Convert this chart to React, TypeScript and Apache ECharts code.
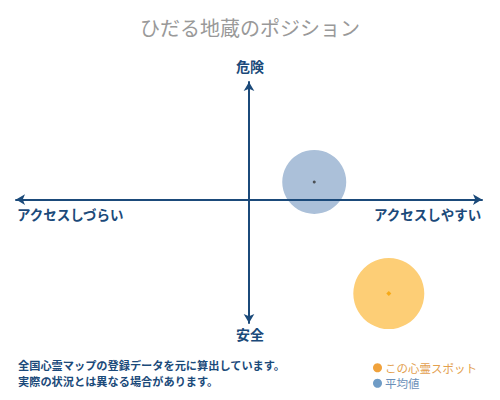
import React, { useRef, useEffect } from 'react';
import * as echarts from 'echarts';

const titleText = 'ひだる地蔵のポジション';
const axisTop = '危険';
const axisBottom = '安全';
const axisLeft = 'アクセスしづらい';
const axisRight = 'アクセスしやすい';
const notes = ['全国心霊マップの登録データを元に算出しています。', '実際の状況とは異なる場合があります。'];

const seriesNames = ['この心霊スポット', '平均値'];
// [access, danger]
const spotPoint = [6.0, -8.0];
const averagePoint = [2.8, 1.5];
const bubbleSizes = [71, 64];

const NAVY = '#1b4a7a';
const FONT = '"Noto Sans CJK JP", "Noto Sans", sans-serif';

export default function App() {
  const chartRef = useRef<HTMLDivElement>(null);

  useEffect(() => {
    if (!chartRef.current) return;
    const chart = echarts.init(chartRef.current, undefined, { renderer: 'svg' });

    const axisLine = {
      onZero: true,
      symbol: ['arrow', 'arrow'],
      symbolSize: [8, 9],
      lineStyle: { color: NAVY, width: 2 },
    };

    const option: echarts.EChartsOption = {
      animation: false,
      backgroundColor: '#fff',
      textStyle: { fontFamily: FONT },
      title: {
        text: titleText,
        left: 'center',
        top: 12,
        textStyle: { color: '#999', fontSize: 20, fontWeight: 'normal', fontFamily: FONT },
      },
      grid: { left: 16, right: 18, top: 82, bottom: 77 },
      xAxis: {
        type: 'value', min: -10, max: 10, z: 5,
        axisLine, axisTick: { show: false }, axisLabel: { show: false }, splitLine: { show: false },
      },
      yAxis: {
        type: 'value', min: -10.5, max: 10, z: 5,
        axisLine, axisTick: { show: false }, axisLabel: { show: false }, splitLine: { show: false },
      },
      legend: {
        orient: 'vertical',
        right: 18,
        top: 357,
        itemGap: 4,
        itemWidth: 9,
        itemHeight: 9,
        icon: 'circle',
        selectedMode: false,
        data: [
          { name: seriesNames[0], itemStyle: { color: '#f0a23c' }, textStyle: { color: '#e3a04e' } },
          { name: seriesNames[1], itemStyle: { color: '#6f9cc6' }, textStyle: { color: '#6a8fb8' } },
        ],
        textStyle: { fontSize: 11.5, fontFamily: FONT, padding: [0, 0, 0, -2] },
      },
      series: [
        {
          name: seriesNames[0], type: 'scatter', data: [spotPoint], symbolSize: bubbleSizes[0],
          itemStyle: { color: '#fdce76', opacity: 1 }, z: 2,
        },
        {
          name: seriesNames[1], type: 'scatter', data: [averagePoint], symbolSize: bubbleSizes[1],
          itemStyle: { color: '#abc0d9', opacity: 1 }, z: 2,
        },
        {
          type: 'scatter', data: [spotPoint], symbol: 'diamond', symbolSize: 5,
          itemStyle: { color: '#f5a100' }, z: 3, silent: true,
        },
        {
          type: 'scatter', data: [averagePoint], symbolSize: 3,
          itemStyle: { color: '#333' }, z: 3, silent: true,
        },
      ],
      graphic: [
        {
          type: 'text', left: 'center', top: 59,
          style: { text: axisTop, fill: NAVY, font: `bold 14px ${FONT}` },
        },
        {
          type: 'text', left: 'center', top: 327,
          style: { text: axisBottom, fill: NAVY, font: `bold 14px ${FONT}` },
        },
        {
          type: 'text', left: 17, top: 207,
          style: { text: axisLeft, fill: NAVY, font: `bold 13.5px ${FONT}` },
        },
        {
          type: 'text', right: 18, top: 207,
          style: { text: axisRight, fill: NAVY, font: `bold 13.5px ${FONT}` },
        },
        {
          type: 'text', left: 18, top: 359,
          style: { text: notes[0], fill: NAVY, font: `bold 11.2px ${FONT}` },
        },
        {
          type: 'text', left: 18, top: 375,
          style: { text: notes[1], fill: NAVY, font: `bold 11.2px ${FONT}` },
        },
      ],
    };

    chart.setOption(option);
    return () => chart.dispose();
  }, []);

  return <div ref={chartRef} style={{ width: 500, height: 400, margin: -8 }} />;
}
